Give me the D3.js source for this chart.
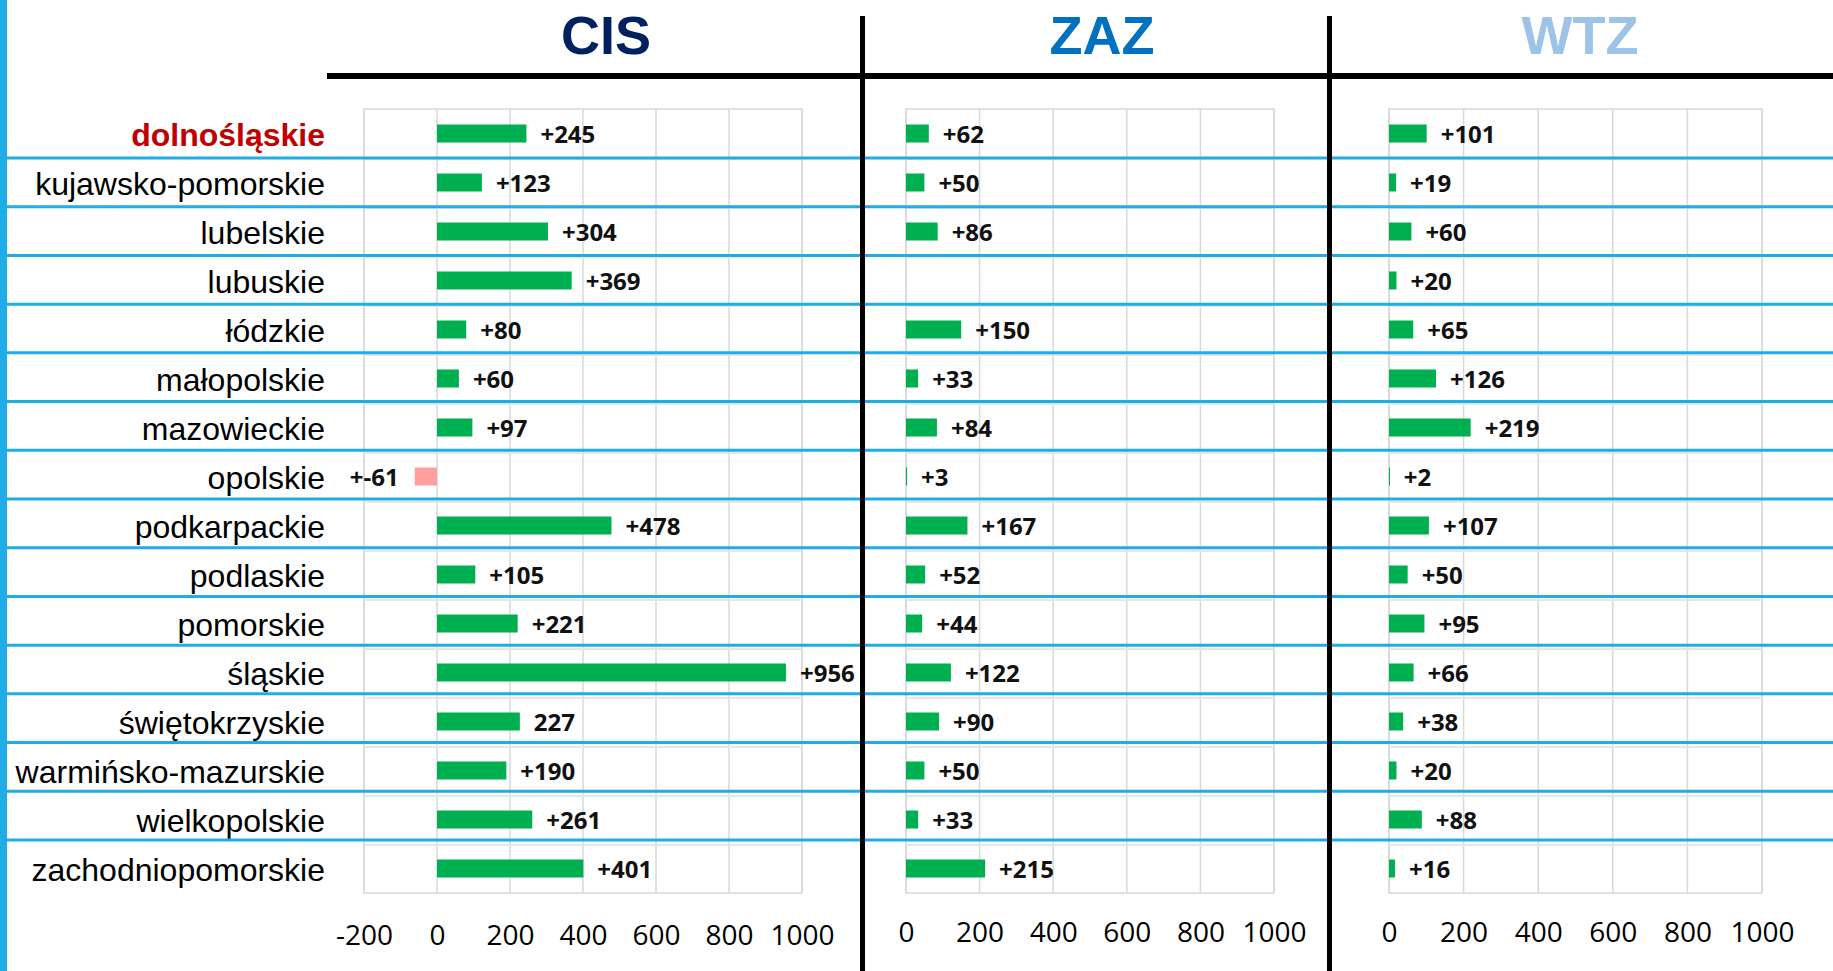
<!DOCTYPE html>
<html>
<head>
<meta charset="utf-8">
<script src="https://cdn.jsdelivr.net/npm/d3@7"></script>
<style>
  body { margin: 0; background: #fff; }
  .cat { font-family: "Liberation Sans", Arial, sans-serif; font-size: 32px; }
  .val { font-family: "Open Sans", sans-serif; font-weight: bold; font-size: 24px; fill: #111; }
  .tick text { font-family: "Open Sans", sans-serif; font-size: 28px; fill: #000; }
  .title { font-family: "Liberation Sans", Arial, sans-serif; font-weight: bold; font-size: 54px; }
</style>
</head>
<body>
<svg id="chart" width="1833" height="971"></svg>
<script>
// data
const regions = ["dolnośląskie", "kujawsko-pomorskie", "lubelskie", "lubuskie", "łódzkie",
  "małopolskie", "mazowieckie", "opolskie", "podkarpackie", "podlaskie", "pomorskie",
  "śląskie", "świętokrzyskie", "warmińsko-mazurskie", "wielkopolskie", "zachodniopomorskie"];
const cis = [245, 123, 304, 369, 80, 60, 97, -61, 478, 105, 221, 956, 227, 190, 261, 401];
const cisLabels = ["+245", "+123", "+304", "+369", "+80", "+60", "+97", "+-61", "+478", "+105",
  "+221", "+956", "227", "+190", "+261", "+401"];
const zaz = [62, 50, 86, null, 150, 33, 84, 3, 167, 52, 44, 122, 90, 50, 33, 215];
const wtz = [101, 19, 60, 20, 65, 126, 219, 2, 107, 50, 95, 66, 38, 20, 88, 16];
const cisTicks = [-200, 0, 200, 400, 600, 800, 1000];
const otherTicks = [0, 200, 400, 600, 800, 1000];
const highlight = "dolnośląskie";

const W = 1833, H = 971;
const blue = "#1EADE6", green = "#00B050", pink = "#FF9F9F";
const svg = d3.select("#chart");

const plotTop = 109, plotBottom = 893;
const y = d3.scaleBand().domain(regions).range([plotTop, plotBottom]).paddingInner(0);
const barH = 18;

const panels = [
  { name: "CIS", color: "#002060", data: cis, labels: cisLabels, ticks: cisTicks,
    x: d3.scaleLinear().domain([-200, 1000]).range([364, 802]), titleX: 606, tickY: 945 },
  { name: "ZAZ", color: "#0070C0", data: zaz, labels: zaz.map(v => v == null ? "" : "+" + v), ticks: otherTicks,
    x: d3.scaleLinear().domain([0, 1000]).range([906, 1274]), titleX: 1102, tickY: 942 },
  { name: "WTZ", color: "#9DC3E6", data: wtz, labels: wtz.map(v => "+" + v), ticks: otherTicks,
    x: d3.scaleLinear().domain([0, 1000]).range([1389, 1762]), titleX: 1580, tickY: 942 }
];

panels.forEach(p => {
  const g = svg.append("g");
  const [x0, x1] = p.x.range();

  // plot area + gridlines
  g.append("rect").attr("x", x0).attr("y", plotTop).attr("width", x1 - x0).attr("height", plotBottom - plotTop)
    .attr("fill", "none").attr("stroke", "#d9d9d9").attr("stroke-width", 1.5);
  g.selectAll(".grid").data(p.ticks).enter().append("line")
    .attr("x1", d => p.x(d)).attr("x2", d => p.x(d))
    .attr("y1", plotTop).attr("y2", plotBottom)
    .attr("stroke", "#d9d9d9").attr("stroke-width", 1.5);
  // faint row frames (each row was its own little chart)
  g.selectAll(".rowline").data(regions.slice(1)).enter().append("line")
    .attr("x1", x0).attr("x2", x1)
    .attr("y1", d => y(d) + 1).attr("y2", d => y(d) + 1)
    .attr("stroke", "#e6e6e6").attr("stroke-width", 2);

  const rows = regions.map((r, i) => ({ region: r, value: p.data[i], label: p.labels[i] }))
    .filter(d => d.value != null);

  g.selectAll(".bar").data(rows).enter().append("rect")
    .attr("x", d => p.x(Math.min(0, d.value)))
    .attr("width", d => Math.max(1, Math.abs(p.x(d.value) - p.x(0))))
    .attr("y", d => y(d.region) + y.bandwidth() / 2 - barH / 2)
    .attr("height", barH)
    .attr("fill", d => d.value < 0 ? pink : green);

  g.selectAll(".val").data(rows).enter().append("text")
    .attr("class", "val")
    .attr("x", d => d.value < 0 ? p.x(d.value) - 16 : p.x(d.value) + 14)
    .attr("y", d => y(d.region) + y.bandwidth() / 2 + 9)
    .attr("text-anchor", d => d.value < 0 ? "end" : "start")
    .text(d => d.label);

  // axis labels
  const axis = d3.axisBottom(p.x).tickValues(p.ticks).tickSize(0).tickPadding(0).tickFormat(d => String(d));
  const ag = svg.append("g").attr("transform", `translate(0,${p.tickY})`).call(axis);
  ag.select(".domain").remove();
  ag.selectAll("text").attr("dy", 0).attr("y", 0);

  svg.append("text").attr("class", "title")
    .attr("x", p.titleX).attr("y", 54).attr("text-anchor", "middle")
    .attr("fill", p.color).text(p.name);
});

// row labels
svg.selectAll(".cat").data(regions).enter().append("text")
  .attr("class", "cat")
  .attr("x", 325)
  .attr("y", d => y(d) + y.bandwidth() / 2 + 12)
  .attr("text-anchor", "end")
  .style("font-weight", d => d === highlight ? "bold" : "normal")
  .style("fill", d => d === highlight ? "#C00000" : "#000")
  .text(d => d);

// blue row separators
const sep = d3.scaleLinear().domain([1, regions.length - 1]).range([158, 840]);
svg.selectAll(".sep").data(d3.range(1, regions.length)).enter().append("line")
  .attr("x1", 7).attr("x2", W)
  .attr("y1", d => sep(d)).attr("y2", d => sep(d))
  .attr("stroke", blue).attr("stroke-width", 3);

// left blue bar
svg.append("rect").attr("x", 0).attr("y", 0).attr("width", 7).attr("height", H).attr("fill", blue);

// black frame lines
svg.append("line").attr("x1", 327).attr("x2", W).attr("y1", 76).attr("y2", 76)
  .attr("stroke", "#000").attr("stroke-width", 6);
[862.5, 1329.5].forEach(xv => {
  svg.append("line").attr("x1", xv).attr("x2", xv).attr("y1", 16).attr("y2", H)
    .attr("stroke", "#000").attr("stroke-width", 5);
});
</script>
</body>
</html>
